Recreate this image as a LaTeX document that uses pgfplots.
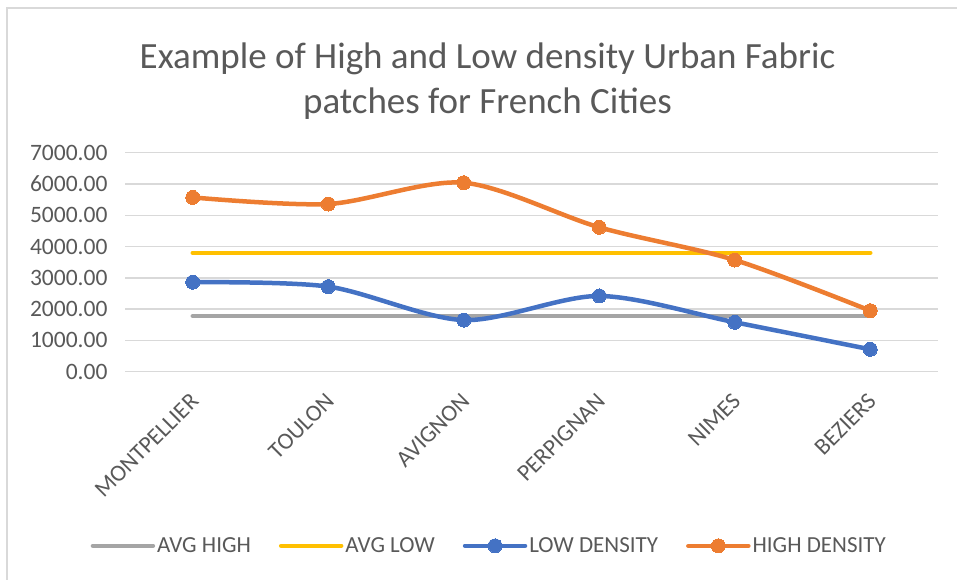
\documentclass[border=0pt]{standalone}
\usepackage{pgfplots}
\pgfplotsset{compat=1.18}
\usepackage{fontspec}
\setmainfont{Carlito}
\definecolor{txtgray}{HTML}{595959}
\definecolor{gridgray}{HTML}{D9D9D9}
\definecolor{xlblue}{HTML}{4472C4}
\definecolor{xlorange}{HTML}{ED7D31}
\definecolor{xlgray}{HTML}{A5A5A5}
\definecolor{xlyellow}{HTML}{FFC000}
\begin{document}
\begin{tikzpicture}[x=1pt,y=1pt]
\useasboundingbox (0,0) rectangle (957,580);
\draw[gridgray, line width=2pt] (7,0) -- (7,571.5) -- (957,571.5);
\node[txtgray, align=center, font=\fontsize{37}{45}\selectfont] at (487.5,499) {Example of High and Low density Urban Fabric\\patches for French Cities};
\begin{axis}[
  at={(125pt,208.3pt)}, anchor=south west,
  scale only axis, width=813pt, height=219pt,
  xmin=-0.5, xmax=5.5, ymin=0, ymax=7000,
  axis line style={draw=none},
  major tick style={draw=none},
  ymajorgrids, grid style={gridgray, line width=1.5pt},
  ytick={0,1000,...,7000},
  yticklabel style={txtgray, font=\fontsize{23.5}{28}\selectfont, /pgf/number format/fixed, /pgf/number format/precision=2, /pgf/number format/fixed zerofill, /pgf/number format/1000 sep={}, /pgf/number format/assume math mode=true},
  yticklabel shift=14pt,
  xtick={0,...,5},
  xticklabels={MONTPELLIER,TOULON,AVIGNON,PERPIGNAN,NIMES,BEZIERS},
  xticklabel style={txtgray, font=\fontsize{23.5}{28}\selectfont, rotate=45, anchor=east, xshift=-13.5pt, yshift=-19.5pt},
  legend columns=4,
  legend style={at={(0.448,-0.795)}, anchor=center, draw=none, fill=none, font=\fontsize{23}{28}\selectfont, text=txtgray, /tikz/every even column/.append style={column sep=26pt}},
  legend image code/.code={\draw[#1, mark repeat=2, mark phase=2] plot coordinates {(0pt,0pt) (30pt,0pt) (60pt,0pt)};},
  every axis plot/.append style={line width=4.5pt, line cap=round},
  clip=false,
]
\addplot[xlgray, no markers] coordinates {(0,1780) (5,1780)};
\addlegendentry{AVG HIGH}
\addplot[xlyellow, no markers] coordinates {(0,3800) (5,3800)};
\addlegendentry{AVG LOW}
\addplot[xlblue, smooth, mark=*, mark size=7pt, mark options={line width=0pt}] coordinates {(0,2860) (1,2720) (2,1650) (3,2420) (4,1580) (5,715)};
\addlegendentry{LOW DENSITY}
\addplot[xlorange, smooth, mark=*, mark size=7pt, mark options={line width=0pt}] coordinates {(0,5570) (1,5360) (2,6040) (3,4615) (4,3570) (5,1950)};
\addlegendentry{HIGH DENSITY}
\end{axis}
\end{tikzpicture}
\end{document}
